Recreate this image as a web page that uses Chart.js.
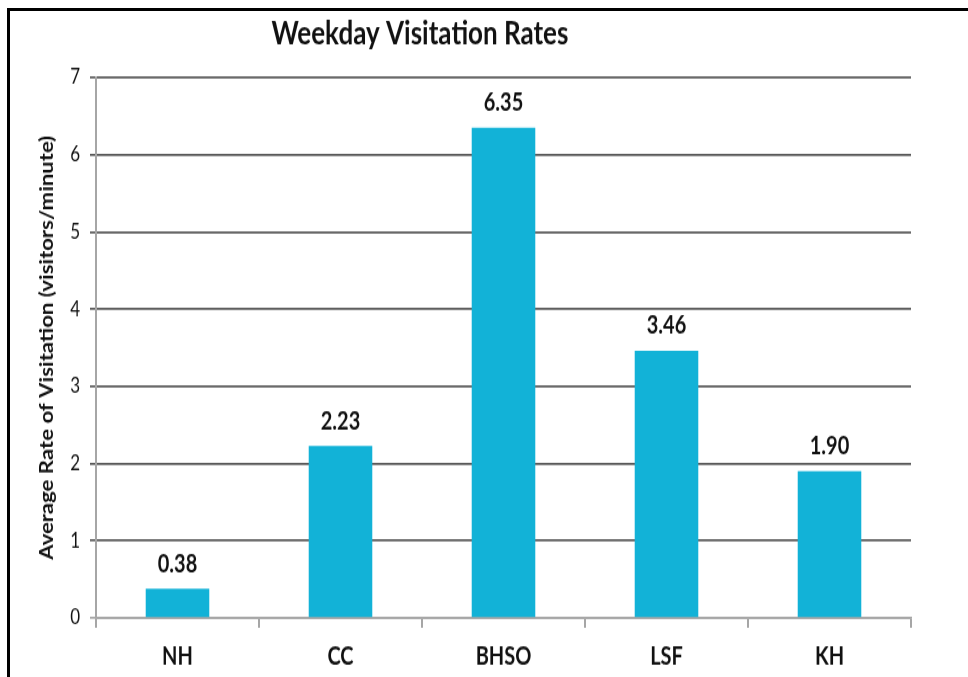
<!DOCTYPE html>
<html>
<head>
<meta charset="utf-8">
<script src="https://cdn.jsdelivr.net/npm/chart.js@4.4.0/dist/chart.umd.min.js"></script>
<style>
  html, body { margin: 0; padding: 0; background: #fff; }
  #wrap { position: relative; width: 968px; height: 677px; overflow: hidden; }
  /* the source picture is stretched vertically, so stretch the canvas the same way */
  #myChart { position: absolute; left: 0; top: 0; transform-origin: 0 0; transform: scale(1, 1.2309); }
  #frame { position: absolute; left: 7px; top: 8px; width: 1000px; height: 700px;
           border-left: 3px solid #000; border-top: 3px solid #000; pointer-events: none; }
</style>
</head>
<body>
<div id="wrap">
  <canvas id="myChart" width="968" height="550"></canvas>
  <div id="frame"></div>
</div>
<script>
'use strict'
// chart data
var chartTitle = 'Weekday Visitation Rates';
var sites = ['NH', 'CC', 'BHSO', 'LSF', 'KH'];
var visitRates = [0.38, 2.23, 6.35, 3.46, 1.90];
var yTicks = [0, 1, 2, 3, 4, 5, 6, 7];
var yTitle = 'Average Rate of Visitation (visitors/minute)';

var fontName = 'Lato, "Open Sans", sans-serif';

// value labels above each bar
var barLabels = {
  id: 'barLabels',
  afterDatasetsDraw: function (chart) {
    var ctx = chart.ctx;
    var meta = chart.getDatasetMeta(0);
    ctx.save();
    ctx.font = 'bold 20px ' + fontName;
    ctx.fillStyle = '#111';
    ctx.textAlign = 'center';
    ctx.textBaseline = 'middle';
    for (var i = 0; i < meta.data.length; i++) {
      var bar = meta.data[i];
      ctx.fillText(visitRates[i].toFixed(2), bar.x, bar.y - 20);
    }
    ctx.restore();
  }
};

// title is not centred over the plot, so draw it here
var titlePlugin = {
  id: 'titlePlugin',
  afterDraw: function (chart) {
    var ctx = chart.ctx;
    ctx.save();
    ctx.font = 'bold 26px ' + fontName;
    ctx.fillStyle = '#111';
    ctx.textAlign = 'center';
    ctx.textBaseline = 'middle';
    ctx.fillText(chartTitle, 420, 28);
    ctx.restore();
  }
};

var ctx = document.getElementById('myChart').getContext('2d');
var chart = new Chart(ctx, {
  type: 'bar',
  data: {
    labels: sites,
    datasets: [{
      data: visitRates,
      backgroundColor: '#12B2D7',
      borderWidth: 0,
      categoryPercentage: 1,
      barPercentage: 0.39
    }]
  },
  options: {
    responsive: false,
    animation: false,
    layout: { padding: { top: 63, right: 57, bottom: 0, left: 0 } },
    plugins: {
      legend: { display: false },
      tooltip: { enabled: false },
      title: { display: false }
    },
    scales: {
      x: {
        grid: { offset: true, drawOnChartArea: false, tickLength: 8, color: '#a6a6a6', lineWidth: 2 },
        border: { color: '#a6a6a6', width: 1.7 },
        ticks: { color: '#111', font: { family: fontName, size: 20, weight: 'bold' }, padding: 12 },
        afterFit: function (scale) { scale.height = 48; }
      },
      y: {
        min: 0,
        max: 7,
        afterBuildTicks: function (scale) {
          scale.ticks = yTicks.map(function (v) { return { value: v }; });
        },
        grid: {
          tickLength: 6,
          lineWidth: 1.7,
          color: function (c) { return c.tick && c.tick.value === 0 ? '#a6a6a6' : '#5a5a5a'; }
        },
        border: { color: '#a6a6a6', width: 2 },
        ticks: { color: '#111', font: { family: fontName, size: 17 }, padding: 10 },
        title: {
          display: true,
          text: yTitle,
          color: '#111',
          font: { family: fontName, size: 18, weight: 'bold' },
          padding: { top: 36, bottom: 0 }
        },
        afterFit: function (scale) { scale.width = 96; }
      }
    }
  },
  plugins: [barLabels, titlePlugin]
});
</script>
</body>
</html>
